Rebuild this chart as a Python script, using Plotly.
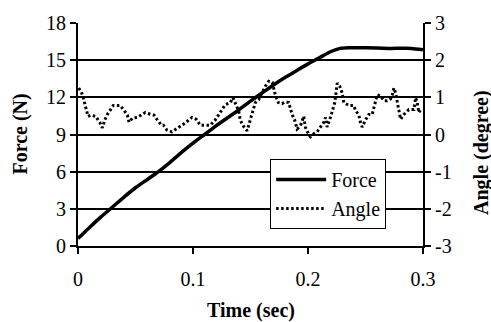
import plotly.graph_objects as go

# ---- data ----
force_t = [0, 0.01, 0.02, 0.03, 0.04, 0.05, 0.06, 0.07, 0.08, 0.09, 0.1, 0.11, 0.12,
           0.13, 0.14, 0.15, 0.16, 0.17, 0.18, 0.19, 0.2, 0.21, 0.22, 0.228, 0.235,
           0.25, 0.27, 0.29, 0.3]
force_n = [0.6, 1.5, 2.35, 3.15, 3.95, 4.7, 5.35, 6.0, 6.75, 7.55, 8.3, 9.0, 9.7,
           10.35, 11.0, 11.7, 12.35, 13.0, 13.6, 14.15, 14.7, 15.2, 15.7, 15.95, 16.0,
           16.0, 15.95, 15.95, 15.85]

angle_t = [0.0006, 0.0029, 0.0046, 0.0064, 0.0076, 0.0087, 0.0111, 0.0154, 0.0192, 0.0212,
           0.0233, 0.0255, 0.0279, 0.0307, 0.034, 0.0366, 0.0401, 0.0429, 0.0444, 0.0473,
           0.0517, 0.0546, 0.0584, 0.0633, 0.0662, 0.0691, 0.0726, 0.0743, 0.0773, 0.0816,
           0.086, 0.0903, 0.0941, 0.099, 0.1028, 0.1063, 0.1106, 0.115, 0.1193, 0.1222,
           0.1252, 0.128, 0.1324, 0.1348, 0.1376, 0.1396, 0.1411, 0.1437, 0.147, 0.1498,
           0.1527, 0.1542, 0.1571, 0.16, 0.1629, 0.1658, 0.169, 0.1716, 0.1742, 0.1774,
           0.1803, 0.1832, 0.1847, 0.1862, 0.1884, 0.1905, 0.1934, 0.1963, 0.1977, 0.1995,
           0.2021, 0.205, 0.2079, 0.2108, 0.2137, 0.2152, 0.2166, 0.2195, 0.2215, 0.2233,
           0.2254, 0.2276, 0.2297, 0.2311, 0.2355, 0.2398, 0.2413, 0.2442, 0.2456, 0.2471,
           0.25, 0.2529, 0.2558, 0.2572, 0.2587, 0.2602, 0.2631, 0.2659, 0.2689, 0.2718,
           0.2733, 0.2747, 0.2761, 0.2776, 0.279, 0.2805, 0.2834, 0.2877, 0.2921, 0.2936,
           0.295, 0.2964, 0.2979, 0.2988]
angle_deg = [1.25, 1.15, 0.99, 0.80, 0.65, 0.49, 0.52, 0.49, 0.31, 0.18,
             0.39, 0.54, 0.65, 0.78, 0.78, 0.78, 0.65, 0.52, 0.33, 0.44,
             0.46, 0.52, 0.59, 0.54, 0.52, 0.39, 0.25, 0.25, 0.12, 0.07,
             0.15, 0.25, 0.33, 0.46, 0.41, 0.25, 0.25, 0.25, 0.39, 0.52,
             0.67, 0.80, 0.86, 0.99, 0.78, 0.65, 0.39, 0.23, 0.10, 0.39,
             0.75, 0.86, 0.94, 1.12, 1.30, 1.43, 1.40, 1.06, 0.86, 0.83,
             0.88, 0.86, 0.67, 0.54, 0.39, 0.15, 0.23, 0.49, 0.20, 0.07,
             -0.06, 0.02, 0.07, 0.20, 0.33, 0.46, 0.20, 0.46, 0.65, 0.86,
             1.38, 1.30, 1.12, 0.86, 0.78, 0.78, 0.65, 0.52, 0.33, 0.20,
             0.39, 0.54, 0.54, 0.73, 0.94, 1.07, 1.04, 0.91, 0.91, 0.96,
             1.07, 1.25, 1.12, 0.91, 0.62, 0.41, 0.54, 0.67, 0.67, 0.99,
             0.86, 0.59, 0.67, 0.65]

x_ticks = [0, 0.1, 0.2, 0.3]
x_ticktext = ["0", "0.1", "0.2", "0.3"]
y_ticks = [0, 3, 6, 9, 12, 15, 18]
y2_ticks = [-3, -2, -1, 0, 1, 2, 3]
y2_ticktext = ["-3", "-2", "-1", "0", "1", "2", "3"]

FONT = "Liberation Serif, Times New Roman, serif"

fig = go.Figure()
fig.add_trace(go.Scatter(x=force_t, y=force_n, mode="lines", name="Force",
                         line=dict(color="black", width=3.5, shape="spline", smoothing=0.6)))
fig.add_trace(go.Scatter(x=angle_t, y=angle_deg, mode="lines", name="Angle", yaxis="y2",
                         line=dict(color="black", width=3, dash="2.5px,2.5px")))

axis_common = dict(showline=True, linecolor="black", linewidth=2, ticks="outside",
                   ticklen=6, tickwidth=2, tickcolor="black", zeroline=False,
                   tickfont=dict(family=FONT, size=20, color="black"))

fig.update_layout(
    width=491, height=322,
    margin=dict(l=78, r=68, t=17, b=76),
    paper_bgcolor="white", plot_bgcolor="white",
    font=dict(family=FONT, size=20, color="black"),
    xaxis=dict(range=[0, 0.3], tickvals=x_ticks, ticktext=x_ticktext, showgrid=False,
               ticklabelstandoff=8, **axis_common),
    yaxis=dict(range=[0, 18], tickvals=y_ticks, showgrid=True, gridcolor="black",
               gridwidth=2, **axis_common),
    yaxis2=dict(range=[-3, 3], tickvals=y2_ticks, ticktext=y2_ticktext, overlaying="y",
                side="right", showgrid=False, **axis_common),
    legend=dict(x=0.557, y=0.39, xanchor="left", yanchor="top", bgcolor="white",
                bordercolor="black", borderwidth=1, font=dict(family=FONT, size=20),
                tracegroupgap=0, itemwidth=50),
    showlegend=True,
    annotations=[
        dict(text="<b>Time (sec)</b>", xref="paper", yref="paper", x=0.5, y=-0.29,
             xanchor="center", yanchor="middle", showarrow=False,
             font=dict(family=FONT, size=20)),
        dict(text="<b>Force (N)</b>", xref="paper", yref="paper", x=-0.168, y=0.5,
             xanchor="center", yanchor="middle", textangle=-90, showarrow=False,
             font=dict(family=FONT, size=20)),
        dict(text="<b>Angle (degree)</b>", xref="paper", yref="paper", x=1.17, y=0.42,
             xanchor="center", yanchor="middle", textangle=-90, showarrow=False,
             font=dict(family=FONT, size=20)),
    ],
)

fig.write_html("out.html")
